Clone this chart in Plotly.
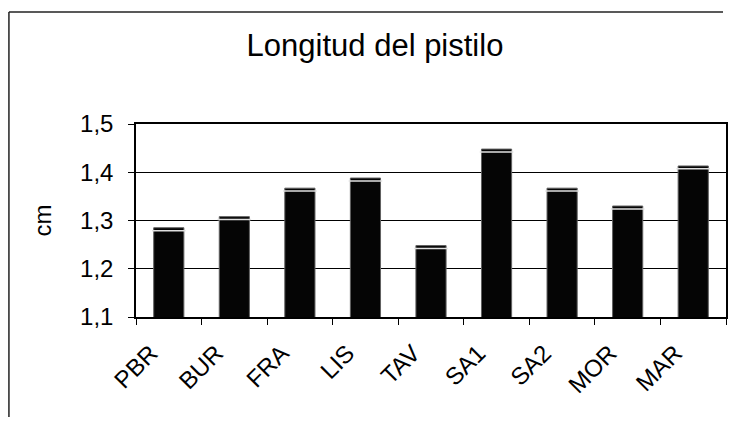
import plotly.graph_objects as go

# Dados
categorias = ["PBR", "BUR", "FRA", "LIS", "TAV", "SA1", "SA2", "MOR", "MAR"]
longitud = [1.285, 1.308, 1.367, 1.388, 1.248, 1.448, 1.367, 1.330, 1.413]
y_ticks = [1.1, 1.2, 1.3, 1.4, 1.5]

FONTE = "Liberation Sans, Arial, sans-serif"

# a página tem 8px de margem no body: a figura começa em (8, 8)
OFF = 8
W, H = 737 - 2 * OFF, 425 - 2 * OFF
# área do gráfico na página: x 136..728, y 124..317
ML, MR, MT, MB = 136 - OFF, W - (728 - OFF), 124 - OFF, H - (317 - OFF)
PW, PH = W - ML - MR, H - MT - MB

fig = go.Figure()
fig.add_trace(go.Bar(
    x=categorias,
    y=longitud,
    marker=dict(color="#050505", line=dict(color="#606060", width=1)),
    width=0.46,
))
# brilho branco perto do topo das barras
fig.add_trace(go.Scatter(
    x=categorias,
    y=[v - 0.006 for v in longitud],
    mode="markers",
    marker=dict(symbol="line-ew-open", size=24, color="#e0e0e0",
                line=dict(color="#e0e0e0", width=1.5)),
    hoverinfo="skip",
))


def px_x(p):
    return (p - OFF - ML) / PW


def px_y(p):
    return 1 - (p - OFF - MT) / PH


# moldura externa (só esquerda e topo ficam visíveis)
fig.add_shape(type="line", xref="paper", yref="paper",
              x0=px_x(8.5), x1=px_x(8.5), y0=px_y(425 - OFF), y1=px_y(12),
              line=dict(color="#222", width=1.5))
fig.add_shape(type="line", xref="paper", yref="paper",
              x0=px_x(8.5), x1=px_x(725), y0=px_y(12), y1=px_y(12),
              line=dict(color="#222", width=1.5))

fig.update_layout(
    width=W, height=H,
    margin=dict(l=ML, r=MR, t=MT, b=MB),
    paper_bgcolor="white",
    plot_bgcolor="white",
    showlegend=False,
    separators=",.",
    font=dict(family=FONTE, color="black", size=24),
    title=dict(text="Longitud del pistilo", x=(375 - OFF) / W,
               xanchor="center", y=1 - (45 - OFF) / H, yanchor="middle",
               font=dict(size=31, family=FONTE)),
)
fig.update_xaxes(
    type="category",
    range=[-0.5, len(categorias) - 0.5],
    tickangle=-45,
    ticks="outside", ticklen=6, tickcolor="black",
    tickson="boundaries",
    ticklabelstandoff=11,
    ticklabelshift=-18,
    showline=True, linecolor="black", linewidth=1.5, mirror=True,
    showgrid=False,
    tickfont=dict(size=24),
)
fig.update_yaxes(
    range=[1.1, 1.5],
    tickvals=y_ticks,
    tickformat=".1f",
    ticks="outside", ticklen=6, tickcolor="black",
    ticklabelstandoff=10,
    showline=True, linecolor="black", linewidth=1.5, mirror=True,
    showgrid=True, gridcolor="black", gridwidth=1,
    zeroline=False,
    tickfont=dict(size=24),
    title=dict(text="cm", font=dict(size=24), standoff=22),
)

fig.write_html("out.html", config={"displayModeBar": False})
